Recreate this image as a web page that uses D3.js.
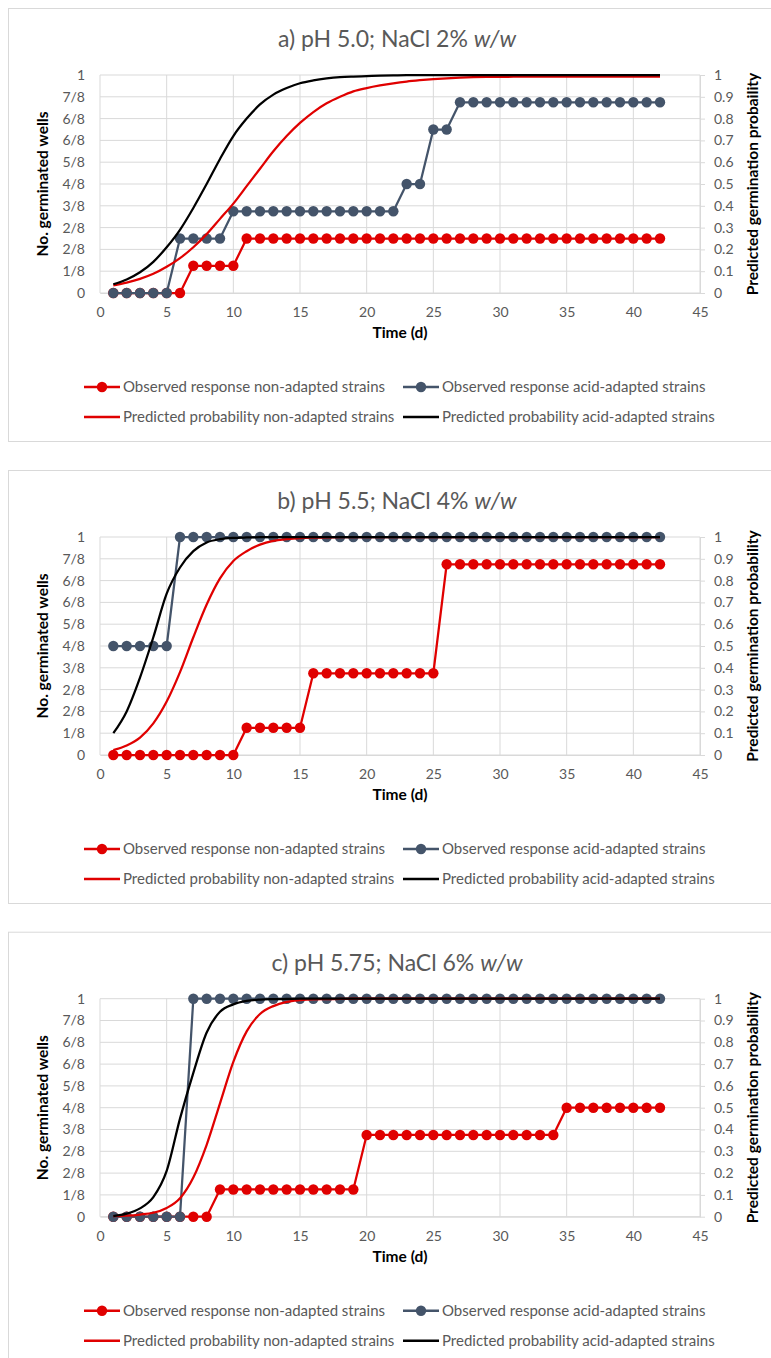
<!DOCTYPE html>
<html>
<head>
<meta charset="utf-8">
<script src="https://cdn.jsdelivr.net/npm/d3@7"></script>
<style>
  body { margin: 0; background: #fff; }
  svg { display: block; font-family: Lato, "Open Sans", sans-serif; }
  .tick-label { fill: #595959; font-size: 14px; }
  .axis-title { fill: #000; font-size: 15.5px; font-weight: bold; }
  .chart-title { fill: #595959; font-size: 23px; }
  .legend-text { fill: #595959; font-size: 15px; }
</style>
</head>
<body>
<div id="chart"></div>
<script>
// ---- data ----
const days = [1,2,3,4,5,6,7,8,9,10,11,12,13,14,15,16,17,18,19,20,21,
              22,23,24,25,26,27,28,29,30,31,32,33,34,35,36,37,38,39,40,41,42];

const xTickValues = [0,5,10,15,20,25,30,35,40,45];
const yTickValues = [0,0.1,0.2,0.3,0.4,0.5,0.6,0.7,0.8,0.9,1];
const leftTickLabels = ["0","1/8","2/8","2/8","3/8","4/8","5/8","6/8","6/8","7/8","1"];
const rightTickLabels = ["0","0.1","0.2","0.3","0.4","0.5","0.6","0.7","0.8","0.9","1"];

const seriesNames = [
  "Observed response non-adapted strains",
  "Observed response acid-adapted strains",
  "Predicted probability non-adapted strains",
  "Predicted probability acid-adapted strains"
];

const panelTitles = ["a) pH 5.0; NaCl 2% ", "b) pH 5.5; NaCl 4% ", "c) pH 5.75; NaCl 6% "];
const leftTitle = "No. germinated wells";
const rightTitles = [
  "Predicted germination probaility",
  "Predicted germination probability",
  "Predicted germination probability"
];
const xTitle = "Time (d)";

// a) pH 5.0; NaCl 2%
const aObsNon = [0,0,0,0,0,0,0.125,0.125,0.125,0.125,0.25,0.25,0.25,0.25,0.25,0.25,0.25,0.25,0.25,0.25,0.25,
                 0.25,0.25,0.25,0.25,0.25,0.25,0.25,0.25,0.25,0.25,0.25,0.25,0.25,0.25,0.25,0.25,0.25,0.25,0.25,0.25,0.25];
const aObsAcid = [0,0,0,0,0,0.25,0.25,0.25,0.25,0.375,0.375,0.375,0.375,0.375,0.375,0.375,0.375,0.375,0.375,0.375,0.375,
                  0.375,0.5,0.5,0.75,0.75,0.875,0.875,0.875,0.875,0.875,0.875,0.875,0.875,0.875,0.875,0.875,0.875,0.875,0.875,0.875,0.875];
const aPredNon = [0.035,0.048,0.065,0.088,0.12,0.16,0.21,0.27,0.34,0.41,0.49,0.57,0.65,0.72,0.78,0.83,0.87,0.9,0.925,0.94,0.952,
                  0.962,0.97,0.976,0.981,0.985,0.988,0.99,0.991,0.991,0.992,0.992,0.992,0.993,0.993,0.993,0.993,0.993,0.993,0.993,0.993,0.993];
const aPredAcid = [0.04,0.062,0.095,0.143,0.21,0.29,0.39,0.5,0.615,0.72,0.8,0.865,0.91,0.94,0.962,0.975,0.984,0.99,0.993,0.995,0.997,
                   0.998,0.999,0.999,1,1,1,1,1,1,1,1,1,1,1,1,1,1,1,1,1,1];

// b) pH 5.5; NaCl 4%
const bObsNon = [0,0,0,0,0,0,0,0,0,0,0.125,0.125,0.125,0.125,0.125,0.375,0.375,0.375,0.375,0.375,0.375,
                 0.375,0.375,0.375,0.375,0.875,0.875,0.875,0.875,0.875,0.875,0.875,0.875,0.875,0.875,0.875,0.875,0.875,0.875,0.875,0.875,0.875];
const bObsAcid = [0.5,0.5,0.5,0.5,0.5,1,1,1,1,1,1,1,1,1,1,1,1,1,1,1,1,
                  1,1,1,1,1,1,1,1,1,1,1,1,1,1,1,1,1,1,1,1,1];
const bPredNon = [0.023,0.044,0.08,0.145,0.245,0.38,0.54,0.69,0.81,0.89,0.935,0.965,0.982,0.99,0.995,0.997,0.998,0.999,0.999,1,1,
                  1,1,1,1,1,1,1,1,1,1,1,1,1,1,1,1,1,1,1,1,1];
const bPredAcid = [0.1,0.2,0.355,0.54,0.74,0.86,0.935,0.975,0.99,0.996,0.998,0.999,1,1,1,1,1,1,1,1,1,
                   1,1,1,1,1,1,1,1,1,1,1,1,1,1,1,1,1,1,1,1,1];

// c) pH 5.75; NaCl 6%
const cObsNon = [0,0,0,0,0,0,0,0,0.125,0.125,0.125,0.125,0.125,0.125,0.125,0.125,0.125,0.125,0.125,0.375,0.375,
                 0.375,0.375,0.375,0.375,0.375,0.375,0.375,0.375,0.375,0.375,0.375,0.375,0.375,0.5,0.5,0.5,0.5,0.5,0.5,0.5,0.5];
const cObsAcid = [0,0,0,0,0,0,1,1,1,1,1,1,1,1,1,1,1,1,1,1,1,
                  1,1,1,1,1,1,1,1,1,1,1,1,1,1,1,1,1,1,1,1,1];
const cPredNon = [0.003,0.005,0.01,0.018,0.04,0.085,0.18,0.33,0.52,0.71,0.85,0.93,0.966,0.985,0.993,0.997,0.998,0.999,1,1,1,
                  1,1,1,1,1,1,1,1,1,1,1,1,1,1,1,1,1,1,1,1,1];
const cPredAcid = [0.003,0.014,0.038,0.09,0.21,0.45,0.66,0.845,0.94,0.974,0.99,0.996,0.998,0.999,1,1,1,1,1,1,1,
                   1,1,1,1,1,1,1,1,1,1,1,1,1,1,1,1,1,1,1,1,1];

const panelData = [
  [aObsNon, aObsAcid, aPredNon, aPredAcid],
  [bObsNon, bObsAcid, bPredNon, bPredAcid],
  [cObsNon, cObsAcid, cPredNon, cPredAcid]
];

const RED = "#e00000";
const BLUE = "#44546a";
const BLACK = "#000000";
const GRID = "#d9d9d9";

class GerminationChart {

  constructor(_config, _data) {
    this.config = {
      svg: _config.svg,
      top: _config.top,
      title: _config.title,
      rightTitle: _config.rightTitle,
      margin: {top: 67, left: 100},
      width: 600,
      height: 218
    };
    this.data = _data;
    this.initVis();
  }

  initVis() {
    let vis = this;
    const c = vis.config;

    // panel frame (runs off the right edge, as in the source)
    c.svg.append('rect')
        .attr('x', 8.5).attr('y', c.top + 0.5)
        .attr('width', 800).attr('height', 433)
        .attr('fill', '#fff')
        .attr('stroke', GRID);

    vis.xScale = d3.scaleLinear().domain([0, 45]).range([0, c.width]);
    vis.yScale = d3.scaleLinear().domain([0, 1]).range([c.height, 0]);

    vis.g = c.svg.append('g')
        .attr('transform', `translate(${c.margin.left},${c.top + c.margin.top})`);

    // gridlines
    vis.g.append('g').selectAll('line.hgrid')
        .data(yTickValues)
        .join('line')
        .attr('x1', 0).attr('x2', c.width)
        .attr('y1', d => vis.yScale(d)).attr('y2', d => vis.yScale(d))
        .attr('stroke', GRID).attr('stroke-width', 1);

    vis.g.append('g').selectAll('line.vgrid')
        .data(xTickValues)
        .join('line')
        .attr('x1', d => vis.xScale(d)).attr('x2', d => vis.xScale(d))
        .attr('y1', 0).attr('y2', c.height)
        .attr('stroke', GRID).attr('stroke-width', 1);

    // axes
    const xAxis = d3.axisBottom(vis.xScale)
        .tickValues(xTickValues)
        .tickSize(0)
        .tickPadding(14.5);
    const yAxisL = d3.axisLeft(vis.yScale)
        .tickValues(yTickValues)
        .tickFormat((d, i) => leftTickLabels[i])
        .tickSize(0)
        .tickPadding(15);
    const yAxisR = d3.axisRight(vis.yScale)
        .tickValues(yTickValues)
        .tickFormat((d, i) => rightTickLabels[i])
        .tickSize(5)
        .tickSizeOuter(0)
        .tickPadding(9);

    const xg = vis.g.append('g').attr('transform', `translate(0,${c.height})`).call(xAxis);
    const yl = vis.g.append('g').call(yAxisL);
    const yr = vis.g.append('g').attr('transform', `translate(${c.width},0)`).call(yAxisR);

    [xg, yl, yr].forEach(a => {
      a.attr('font-family', null).attr('font-size', null);
      a.selectAll('text').attr('class', 'tick-label').attr('fill', null);
      a.selectAll('line').attr('stroke', GRID);
      a.select('.domain').attr('stroke', GRID);
    });
    yl.select('.domain').remove();

    // titles
    const title = c.svg.append('text')
        .attr('class', 'chart-title')
        .attr('x', 397).attr('y', c.top + 39)
        .attr('text-anchor', 'middle');
    title.append('tspan').text(c.title);
    title.append('tspan').attr('font-style', 'italic').text('w/w');

    c.svg.append('text')
        .attr('class', 'axis-title')
        .attr('text-anchor', 'middle')
        .attr('transform', `translate(48,${c.top + c.margin.top + c.height / 2}) rotate(-90)`)
        .text(leftTitle);

    c.svg.append('text')
        .attr('class', 'axis-title')
        .attr('text-anchor', 'middle')
        .attr('transform', `translate(758,${c.top + c.margin.top + c.height / 2}) rotate(-90)`)
        .text(c.rightTitle);

    c.svg.append('text')
        .attr('class', 'axis-title')
        .attr('text-anchor', 'middle')
        .attr('x', 400).attr('y', c.top + 330)
        .text(xTitle);

    vis.renderVis();
    vis.renderLegend();
  }

  renderVis() {
    let vis = this;
    const [obsNon, obsAcid, predNon, predAcid] = vis.data;

    const line = d3.line()
        .x((d, i) => vis.xScale(days[i]))
        .y(d => vis.yScale(d));

    const observed = [{values: obsNon, color: RED}, {values: obsAcid, color: BLUE}];
    observed.forEach(s => {
      vis.g.append('path')
          .datum(s.values)
          .attr('d', line)
          .attr('fill', 'none')
          .attr('stroke', s.color)
          .attr('stroke-width', 2.25)
          .attr('stroke-linejoin', 'round');
      vis.g.append('g').selectAll('circle')
          .data(s.values)
          .join('circle')
          .attr('cx', (d, i) => vis.xScale(days[i]))
          .attr('cy', d => vis.yScale(d))
          .attr('r', 5.2)
          .attr('fill', s.color);
    });

    // predicted curves: smoothed through the daily values, like the source
    const smooth = d3.line()
        .curve(d3.curveMonotoneX)
        .x((d, i) => vis.xScale(days[i]))
        .y(d => vis.yScale(d));

    const predicted = [{values: predNon, color: RED}, {values: predAcid, color: BLACK}];
    predicted.forEach(s => {
      vis.g.append('path')
          .datum(s.values)
          .attr('d', smooth)
          .attr('fill', 'none')
          .attr('stroke', s.color)
          .attr('stroke-width', 2.25)
          .attr('stroke-linejoin', 'round');
    });
  }

  renderLegend() {
    let vis = this;
    const c = vis.config;
    const colX = [84, 403];
    const rowY = [c.top + 379, c.top + 409];
    const colors = [RED, BLUE, RED, BLACK];
    const markers = [true, true, false, false];

    seriesNames.forEach((name, i) => {
      const x = colX[i % 2];
      const y = rowY[Math.floor(i / 2)];
      const item = c.svg.append('g');
      item.append('line')
          .attr('x1', x).attr('x2', x + 36)
          .attr('y1', y).attr('y2', y)
          .attr('stroke', colors[i]).attr('stroke-width', 2.5);
      if (markers[i]) {
        item.append('circle')
            .attr('cx', x + 18).attr('cy', y)
            .attr('r', 5.2).attr('fill', colors[i]);
      }
      item.append('text')
          .attr('class', 'legend-text')
          .attr('x', x + 39).attr('y', y)
          .attr('dy', '0.35em')
          .text(name);
    });
  }
}

const svg = d3.select('#chart').append('svg')
    .attr('width', 771)
    .attr('height', 1358);

const panelTops = [8, 470, 931.7];
panelTops.forEach((top, i) => {
  new GerminationChart({
    svg: svg,
    top: top,
    title: panelTitles[i],
    rightTitle: rightTitles[i]
  }, panelData[i]);
});
</script>
</body>
</html>
